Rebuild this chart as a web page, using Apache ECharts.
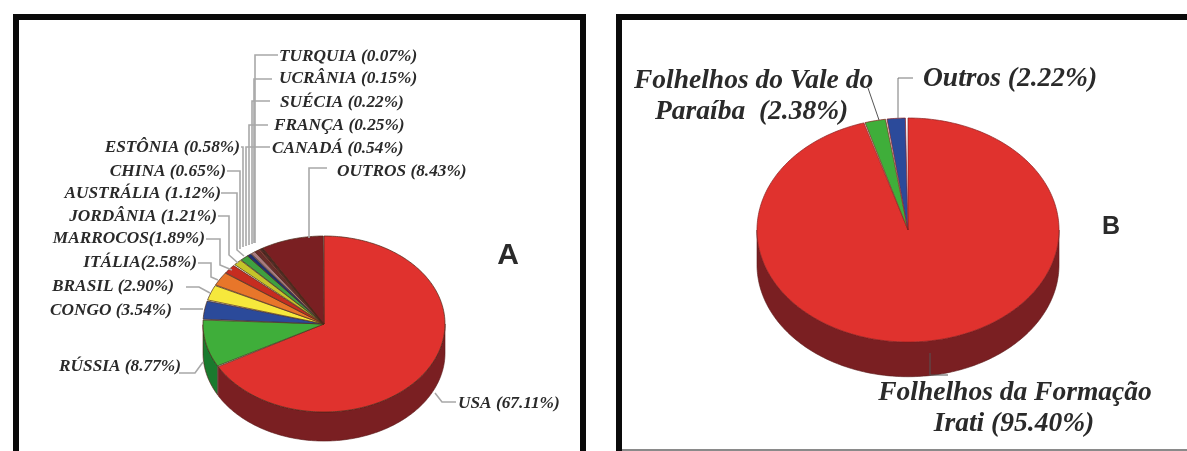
<!DOCTYPE html>
<html><head><meta charset="utf-8">
<style>html,body{margin:0;padding:0;background:#fff}#c{width:1187px;height:451px}</style>
<script src="https://cdn.jsdelivr.net/npm/echarts@6/dist/echarts.min.js"></script></head>
<body><div id="c"></div>
<script>
const namesA = ['USA','RÚSSIA','CONGO','BRASIL','ITÁLIA','MARROCOS','JORDÂNIA','AUSTRÁLIA','CHINA','ESTÔNIA','CANADÁ','FRANÇA','SUÉCIA','UCRÂNIA','TURQUIA','OUTROS'];
const valuesA = [67.11,8.77,3.54,2.90,2.58,1.89,1.21,1.12,0.65,0.58,0.54,0.25,0.22,0.15,0.07,8.43];
const colorsA = ['#E0322E','#3FAE3A','#2B4A9A','#F6E83C','#E8762A','#C62C20','#C4C42A','#3FA040','#1F2F70','#A87C80','#6B2A2A','#8a3a3a','#4a2020','#2a1a2a','#6b2a2a','#7A1F22'];
const sidesA  = ['#7A1F22','#1A7A2E','#1F2F70','#A09020','#A04A1A','#7A1F22','#808020','#1F7A2A','#141E50','#705050','#451818','#451818','#451818','#451818','#451818','#451818'];
const namesB = ['Folhelhos da Formação Irati','Folhelhos do Vale do Paraíba','Outros'];
const valuesB = [95.40,2.38,2.22];
const colorsB = ['#E0322E','#3FAE3A','#2B4A9A'];
const sidesB  = ['#7A1F22','#1F7A2A','#1F2F70'];

function slices(vals, startDeg){
  const tot = vals.reduce((a,b)=>a+b,0); let acc = startDeg, out=[];
  vals.forEach((v,i)=>{ const a=acc, b=acc+v/tot*360; out.push([a,b,i]); acc=b; });
  return out;
}
function uv(d){ const r=d*Math.PI/180; return [Math.sin(r),Math.cos(r)]; }
function sideSeries(gridIndex, data, sideCols, depth){
  return {type:'custom',xAxisIndex:gridIndex,yAxisIndex:gridIndex,silent:true,z:3,clip:false,
    encode:{x:0,y:1},data,
    renderItem(params,api){
      const a=api.value(0),b=api.value(1),idx=api.value(2);
      const s=Math.max(a,90),e=Math.min(b,270);
      if(e<=s) return {type:'group',children:[]};
      const top=[],bot=[];
      for(let d=s;d<=e+0.001;d+=Math.min(1,(e-s)/2)){
        const [x,y]=uv(d);
        top.push(api.coord([x,y])); bot.unshift(api.coord([x,y-depth]));
      }
      return {type:'polygon',shape:{points:top.concat(bot)},style:{fill:sideCols[idx],stroke:'#5a1a1a',lineWidth:0.6}};
    }};
}
function topSeries(gridIndex, data, cols, stroke){
  return {type:'custom',xAxisIndex:gridIndex,yAxisIndex:gridIndex,silent:true,z:4,clip:false,
    encode:{x:0,y:1},data,
    renderItem(params,api){
      const a=api.value(0),b=api.value(1),idx=api.value(2);
      const pts=[api.coord([0,0])];
      const step=Math.min(1,(b-a)/2);
      for(let d=a;d<=b+0.001;d+=step){ const [x,y]=uv(d); pts.push(api.coord([x,y])); }
      return {type:'polygon',shape:{points:pts},style:{fill:cols[idx],stroke:stroke,lineWidth:0.7}};
    }};
}
const frame=(x,y,w,h,c)=>({type:'rect',z:1,shape:{x,y,width:w,height:h},style:{fill:c||'#0a0a0a'}});
const leader=(pts,c,w)=>({type:'polyline',z:6,shape:{points:pts},style:{stroke:c||'#a8a8a8',lineWidth:w||1.6,fill:null}});
const smallFont='italic bold 17.3px "Liberation Serif"';
const bigFont='italic bold 27.5px "Liberation Serif"';
const txt=(s,x,y,align,font)=>({type:'text',z:7,style:{text:s,x,y:y+1,align,verticalAlign:'middle',font:font||smallFont,fill:'#2a2a2a',shadowBlur:1.5,shadowColor:'rgba(60,60,60,.6)'}});
const lab=(i,x,y,align,sep)=>txt(namesA[i]+(sep===undefined?' ':sep)+'('+valuesA[i].toFixed(2)+'%)',x,y,align);

const g=[
  frame(13,14,573,6),frame(13,14,6,437),frame(580,14,6,437),
  frame(616,14,571,6),frame(616,14,6,437),frame(622,449,565,2,'#8a8a8a'),
  lab(14,279,56,'left'),lab(13,279,78,'left'),lab(12,280,102,'left'),lab(11,274,125,'left'),lab(10,272,148,'left'),
  lab(15,337,171,'left'),lab(9,240,147,'right'),lab(8,226,171,'right'),lab(7,221,193,'right'),lab(6,217,216,'right'),
  lab(5,205,238,'right',''),lab(4,197,262,'right',''),lab(3,174,286,'right'),lab(2,172,310,'right'),lab(1,181,366,'right'),
  lab(0,458,403,'left'),
  leader([[278,55],[255,55],[255,243]]),leader([[272,79],[254,79],[254,243]]),leader([[270,101],[252,101],[252,244]]),
  leader([[268,125],[249,125],[249,245]]),leader([[270,147],[246,147],[246,246]]),leader([[241,147],[243,147],[243,247]]),
  leader([[227,171],[240,171],[240,249]]),leader([[221,193],[237,193],[237,250],[244,256]]),
  leader([[218,216],[229,216],[229,255],[238,263]]),leader([[206,239],[220,239],[220,265],[232,270]]),
  leader([[198,263],[211,263],[211,277],[218,280]]),leader([[186,287],[199,287],[210,293]]),
  leader([[180,309],[203,309]]),leader([[179,373],[195,373],[203,362]]),leader([[435,393],[442,402],[456,402]]),
  leader([[327,168],[309,168],[309,238]]),
  txt('A',508,255,'center','bold 30px "Liberation Sans"'),
  txt('B',1111,226,'center','bold 25px "Liberation Sans"'),
  leader([[913,78],[898,78],[898,118]],'#777',1),leader([[868,88],[879,120]],'#555',1),leader([[930,353],[930,375],[948,375]],'#555',1),
  txt('Folhelhos do Vale do',634,80,'left',bigFont),
  txt('Paraíba  ('+valuesB[1].toFixed(2)+'%)',655,111,'left',bigFont),
  txt(namesB[2]+' ('+valuesB[2].toFixed(2)+'%)',923,78,'left',bigFont),
  txt('Folhelhos da Formação',1015,392,'center',bigFont),
  txt('Irati ('+valuesB[0].toFixed(2)+'%)',1014,423,'center',bigFont)
];
const axis=i=>({gridIndex:i,type:'value',min:-1,max:1,show:false});
const dA=slices(valuesA,0), dB=slices(valuesB,0);
const chart=echarts.init(document.getElementById('c'));
chart.setOption({animation:false,backgroundColor:'#fff',
  grid:[{left:203,width:242,top:236,height:176},{left:757,width:302,top:118,height:224}],
  xAxis:[axis(0),axis(1)],yAxis:[axis(0),axis(1)],
  graphic:{elements:g},
  series:[sideSeries(0,dA,sidesA,0.33),topSeries(0,dA,colorsA,'#4a2a1a'),
          sideSeries(1,dB,sidesB,0.31),topSeries(1,dB,colorsB,'#8a1f1f')]
});
</script></body></html>
